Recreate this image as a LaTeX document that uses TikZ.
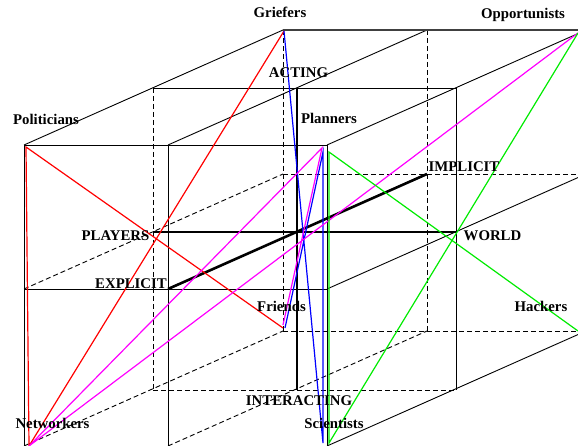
\documentclass[tikz,border=0pt]{standalone}
\usepackage{fontspec}
\setmainfont{Liberation Serif}
\definecolor{cred}{RGB}{255,0,0}
\definecolor{cblue}{RGB}{0,0,255}
\definecolor{cpink}{RGB}{255,0,255}
\definecolor{cgreen}{RGB}{0,235,0}
\begin{document}
\begin{tikzpicture}[x=1pt,y=-1pt,
  edge/.style={draw=black, line width=0.9pt},
  hidden/.style={draw=black, line width=0.9pt, dash pattern=on 5pt off 3pt},
  axisline/.style={draw=black, line width=2.6pt},
  track/.style={line width=1.2pt},
  lab/.style={font=\bfseries\fontsize{14.8}{16}\selectfont, anchor=base, inner sep=0pt, text=black}
]
\useasboundingbox (0,0) rectangle (578,446);
\clip (0,0) rectangle (578,446);
% front face (explicit)
\coordinate (FTL) at (24,145);  \coordinate (FTM) at (168,145); \coordinate (FTR) at (327,145);
\coordinate (FML) at (24,289);  \coordinate (FMM) at (168,289); \coordinate (FMR) at (327,289);
\coordinate (FBL) at (24,446);  \coordinate (FBM) at (168,446); \coordinate (FBR) at (327,446);
% middle depth
\coordinate (MTL) at (153,88);  \coordinate (MTM) at (297,88);  \coordinate (MTR) at (456,88);
\coordinate (MML) at (153,232); \coordinate (MMR) at (456,232);
\coordinate (MBL) at (153,390); \coordinate (MBM) at (297,390); \coordinate (MBR) at (456,390);
% back face (implicit)
\coordinate (BTL) at (283,30);  \coordinate (BTM) at (427,30);  \coordinate (BTR) at (586,30);
\coordinate (BML) at (283,174); \coordinate (BMM) at (427,174); \coordinate (BMR) at (586,174);
\coordinate (BBL) at (283,331); \coordinate (BBM) at (427,331); \coordinate (BBR) at (586,331);

% hidden edges
\draw[hidden] (BTL) -- (BBL);
\draw[hidden] (BTM) -- (BBM);
\draw[hidden] (MTL) -- (MBL);
\draw[hidden] (BML) -- (BMR);
\draw[hidden] (BBL) -- (BBR);
\draw[hidden] (MBL) -- (MBR);
\draw[hidden] (FML) -- (BML);
\draw[hidden] (FBL) -- (BBL);
\draw[hidden] (FBM) -- (BBM);

% visible edges
\draw[edge] (FTL) -- (FTR);
\draw[edge] (FTL) -- (FBL);
\draw[edge] (FTR) -- (FBR);
\draw[edge] (FML) -- (FMR);
\draw[edge] (FTM) -- (FBM);
\draw[edge] (FTL) -- (BTL);
\draw[edge] (FTM) -- (BTM);
\draw[edge] (FTR) -- (BTR);
\draw[edge, draw=black!75, line width=1.3pt] (BTL) -- (BTR);
\draw[edge] (MTL) -- (MTR);
\draw[edge] (MTR) -- (MBR);
\draw[edge] (FMR) -- (BMR);
\draw[edge] (FBR) -- (BBR);

% axes
\draw[axisline] (MTM) -- (MBM);
\draw[axisline] (MML) -- (MMR);
\draw[axisline] (FMM) -- (BMM);

% track end points
\coordinate (Pol) at (26,147);
\coordinate (Net) at (29,446);
\coordinate (Gri) at (284,31);
\coordinate (FriR) at (283,328);
\coordinate (FriB) at (285,328);
\coordinate (FriP) at (283,325);
\coordinate (PlaB) at (323,152);
\coordinate (PlaP) at (322,148);
\coordinate (PlaG) at (329,152);
\coordinate (SciB) at (323,443);
\coordinate (SciG) at (329,443);
\coordinate (Opp) at (578,33);
\coordinate (Hac) at (578,331);

% red: Griefers - Networkers - Politicians - Friends
\draw[track, cred] (Gri) -- (Net) -- (Pol) -- (FriR);
% blue: Griefers - Scientists - Planners - Friends
\draw[track, cblue] (Gri) -- (SciB) -- (PlaB) -- (FriB);
% pink: Opportunists - Networkers - Planners - Friends
\draw[track, cpink] (Opp) -- (Net) -- (PlaP) -- (FriP);
% green: Opportunists - Scientists - Planners - Hackers
\draw[track, cgreen] (Opp) -- (SciG) -- (PlaG) -- (Hac);

% labels
\node[lab] (lgri) at (280,18) {Griefers};
\node[lab] (lopp) at (523,18.5) {Opportunists};
\node[lab] (lact) at (298.5,77.5) {ACTING};
\node[lab] (lpol) at (46,124.5) {Politicians};
\node[lab] (lpla) at (329,124) {Planners};
\node[lab] (limp) at (464,171.5) {IMPLICIT};
\node[lab] (lpla2) at (115.5,241) {PLAYERS};
\node[lab] (lwor) at (492.5,241) {WORLD};
\node[lab] (lexp) at (131,288) {EXPLICIT};
\node[lab] (lfri) at (281.5,311.5) {Friends};
\node[lab] (lhac) at (541,311.5) {Hackers};
\node[lab] (lint) at (299,405.5) {INTERACTING};
\node[lab] (lnet) at (52.5,428) {Networkers};
\node[lab] (lsci) at (334,428) {Scientists};
\end{tikzpicture}
\end{document}
